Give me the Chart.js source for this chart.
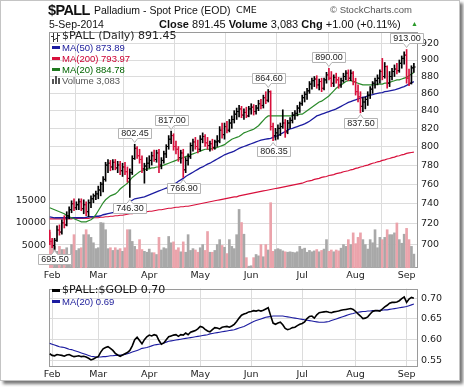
<!DOCTYPE html>
<html><head><meta charset="utf-8">
<script src="https://cdn.jsdelivr.net/npm/chart.js@4.4.1/dist/chart.umd.min.js"></script>
<style>
html,body{margin:0;padding:0;background:#fff;width:464px;height:387px;overflow:hidden;}
#frame{position:absolute;left:0;top:0;width:458px;height:379px;border:1px solid #c4c4c4;box-shadow:3px 3px 3px #777;background:#fff;z-index:0;}
canvas{position:absolute;left:0;z-index:1;}
.t{position:absolute;white-space:nowrap;font-family:"Liberation Sans",Arial,sans-serif;color:#111;z-index:2;}
.d{font-family:"DejaVu Sans",sans-serif;}
.dash{position:absolute;width:8px;height:3px;z-index:2;}
</style></head>
<body>
<div id="frame"></div>
<canvas id="pc" width="464" height="282" style="top:0"></canvas>
<canvas id="rc" width="464" height="100" style="top:280px"></canvas>

<div class="t" style="left:48px;top:2px;font-size:14.5px;font-weight:bold;letter-spacing:-0.6px;line-height:16px;">$PALL</div>
<div class="t" style="left:94px;top:3.5px;font-size:10.5px;line-height:12px;">Palladium - Spot Price (EOD)</div>
<div class="t d" style="left:236px;top:3.5px;font-size:9.5px;line-height:12px;">CME</div>
<div class="t" style="left:330px;top:4px;font-size:9.5px;line-height:12px;color:#555;">© StockCharts.com</div>
<div class="t" style="left:49px;top:18.4px;font-size:10.5px;line-height:12px;">5-Sep-2014</div>
<div class="t" style="left:159px;top:17.7px;font-size:11px;line-height:13px;"><b>Close</b> 891.45 <b>Volume</b> 3,083 <b>Chg</b> +1.00 (+0.11%)</div>
<div class="t" style="left:411px;top:20px;font-size:7px;line-height:8px;color:#2a9a2a;">▲</div>

<svg style="position:absolute;left:51px;top:33px;z-index:2" width="9" height="9"><path d="M2.5 0v9M0 3.5h2.5M2.5 6.5h2M6.5 0v9M4.5 5.5h2M6.5 2.5h2.5" stroke="#333" stroke-width="1" fill="none"/></svg>
<div class="t d" style="left:62px;top:29.5px;font-size:11px;line-height:12px;color:#222;">$PALL (Daily) 891.45</div>
<div class="dash" style="left:52px;top:46px;background:#1c1ca0;"></div>
<div class="t" style="left:62px;top:41.9px;font-size:9.5px;line-height:11px;color:#1a1a99;">MA(50) 873.89</div>
<div class="dash" style="left:52px;top:57px;background:#d8103c;"></div>
<div class="t" style="left:62px;top:52.9px;font-size:9.5px;line-height:11px;color:#cc0033;">MA(200) 793.97</div>
<div class="dash" style="left:52px;top:68px;background:#1f7a1f;"></div>
<div class="t" style="left:62px;top:63.9px;font-size:9.5px;line-height:11px;color:#006400;">MA(20) 884.78</div>
<svg style="position:absolute;left:52px;top:76px;z-index:2" width="9" height="8"><rect x="0" y="3" width="2" height="5" fill="#555"/><rect x="3" y="0" width="2" height="8" fill="#555"/><rect x="6" y="2" width="2" height="6" fill="#555"/></svg>
<div class="t" style="left:62px;top:74.7px;font-size:9.5px;line-height:11px;color:#555;">Volume 3,083</div>

<div class="dash" style="left:52px;top:289px;background:#000;"></div>
<div class="t d" style="left:62px;top:284.2px;font-size:11px;line-height:12px;color:#111;">$PALL:$GOLD 0.70</div>
<div class="dash" style="left:52px;top:300px;background:#1c1ca0;"></div>
<div class="t" style="left:62px;top:296.2px;font-size:9.5px;line-height:11px;color:#1a1a99;">MA(20) 0.69</div>

<script>
// ---------- DATA ----------
const tradingDays = [
 ['Jan',[31]],
 ['Feb',[3,4,5,6,7,10,11,12,13,14,18,19,20,21,24,25,26,27,28]],
 ['Mar',[3,4,5,6,7,10,11,12,13,14,17,18,19,20,21,24,25,26,27,28,31]],
 ['Apr',[1,2,3,4,7,8,9,10,11,14,15,16,17,21,22,23,24,25,28,29,30]],
 ['May',[1,2,5,6,7,8,9,12,13,14,15,16,19,20,21,22,23,27,28,29,30]],
 ['Jun',[2,3,4,5,6,9,10,11,12,13,16,17,18,19,20,23,24,25,26,27,30]],
 ['Jul',[1,2,3,7,8,9,10,11,14,15,16,17,18,21,22,23,24,25,28,29,30,31]],
 ['Aug',[1,4,5,6,7,8,11,12,13,14,15,18,19,20,21,22,25,26,27,28,29]],
 ['Sep',[2,3,4,5]]
];

const openP = [712,703,699,704,714,712,721,719,728,734,740,736,739,742,735,739,732,741,745,748,
 750,754,760,765,780,782,778,783,777,780,774,778,773,766,772,787,798,790,786,776,
 779,782,785,790,786,793,780,785,792,800,808,812,800,797,788,793,775,785,789,801,
 805,800,797,808,811,804,801,803,799,805,806,818,813,822,818,826,830,836,839,842,
 835,838,834,842,844,839,843,848,846,855,852,862,822,812,815,820,822,826,816,826,
 829,835,837,843,848,855,859,863,871,875,877,870,874,866,876,882,878,872,879,876,
 870,875,880,884,878,884,874,862,856,845,850,853,858,865,872,875,878,886,880,892,
 872,880,886,889,887,896,902,906,878,872,890.45];
const highP = [714,706,706,718,719,724,728,732,737,743,745,742,745,745,744,742,744,748,750,753,
 758,762,768,783,786,785,786,786,784,784,782,783,778,776,790,802.45,800,797,790,782,
 788,790,794,796,796,797,788,795,802,812,817,814,806,800,796,797,788,792,804,808,
 810,807,812,815,813,810,806,808,807,812,822,826,826,828,830,834,840,843,846,845,
 842,844,845,848,847,846,852,853,858,862,864.6,863,826,820,824,826,841,830,829,832,
 838,840,846,850,858,862,866,874,878,880,881,877,878,878,885,890,886,882,884,879,
 878,884,887,888,888,886,878,870,862,855,856,862,868,874,878,882,888,902,897,893,
 886,890,894,896,900,905,910,913,889,893,896];
const lowP = [700,697,695.5,703,709,710,716,718,725,731,733,734,734,733,730,728,727,736,741,744,
 745,748,752,763,772,774,775,775,772,770,768,770,762,746.3,770,786,787,782,772,761,
 774,777,780,784,783,772,776,782,788,797,803,796,792,784,782,766.9,772,780,787,795,
 797,793,795,804,800,797,795,796,797,800,804,809,808,815,816,820,826,830,833,832,
 830,832,833,836,835,836,840,842,843,848,850,818,806.35,807,808,812,820,810,814,820,
 826,830,834,838,846,850,853,860,865,868,866,864,862,864,872,876,868,868,872,866,
 867,873,876,875,875,870,858,850,837.5,839,842,846,854,860,866,870,872,876,878,866,
 868,876,880,883,885,890,895,872,869,871,885];
const closeP = [703,699,704,714,712,721,719,728,734,740,736,739,742,735,739,732,741,745,748,750,
 754,760,765,780,782,778,783,777,780,774,778,773,766,772,787,798,790,786,776,779,
 782,785,790,786,793,780,785,792,800,808,812,800,797,788,793,775,785,789,801,805,
 800,797,808,811,804,801,803,799,805,806,818,813,822,818,826,830,836,839,842,835,
 838,834,842,844,839,843,848,846,855,852,862,822,812,815,820,822,826,816,826,829,
 835,837,843,848,855,859,863,871,875,877,870,874,866,876,882,878,872,879,876,870,
 875,880,884,878,884,874,862,856,845,850,853,858,865,872,875,878,886,880,892,872,
 880,886,889,887,896,902,906,878,872,890.45,891.45];
const volume = [7900,6300,4800,3700,4800,4100,4100,4500,3000,5200,7400,3900,4300,4500,7400,8500,7400,6800,5600,4300,
 4500,10100,10000,8500,4300,4500,3900,4500,4000,4300,3700,4500,8500,8500,5900,4800,4100,6300,4100,3700,3500,
 4200,3400,3400,3000,6800,4000,4500,4300,7000,5600,5800,4000,4500,3600,5800,3500,7400,3900,4300,4000,3500,
 4500,5200,3900,8100,3500,3500,3900,5200,6300,5000,4600,3200,6300,4800,4300,7400,13000,10100,7500,2300,400,
 500,2300,3000,2700,5200,2500,5200,4000,14500,3700,4100,4300,4100,3800,3600,3500,3600,3500,3400,3600,4800,
 4200,4400,3500,3900,3600,3800,4100,3600,3900,4200,6300,3700,4000,3600,4000,3800,4400,5200,4800,6300,5200,7800,
 5400,6800,7800,6300,5200,4200,6300,5600,8500,4500,6800,6300,6800,8500,7400,7400,7800,10000,6300,5500,7500,
 8800,6300,4800,3083];
const ma20 = [736,735,734,733,732,731,730,728,727,726,725,724,723,722,722,722,723,724,726,729,
 733,737,741,744,746,748,749,750,752,755,757,759,761,764,767,769,771,773,774,775,
 776,776,777,777,778,778,779,780,781,782,783,784,785,786,787,788,789,790,791,792,
 793,794,795,796,797,797,797,798,798,799,800,801,802,804,806,808,809,810,811,813,
 815,816,817,818,819,821,823,826,829,832,834,834,834,834,834,834,834,834,834,834,
 834,835,835,836,836,838,840,842,844,846,848,850,851,853,855,857,860,863,866,868,
 870,872,874,875,875,874,873,872,871,870,870,870,870,870,870,871,871,871,872,872,
 873,874,875,876,876,877,878,879,881,883,884.78];
const ma50 = [727,726.5,726,726,726,726,726,726,726,726,726,726,726,726,726,726.5,727,727,727,727.5,
 727.5,728,729,729.5,730,730.5,731,732.5,734,735.5,737,739,740.5,742,743.5,745,745.5,746,746.5,747,
 748,749,750,751,752,753,754,755,756,757,758.5,760,761,763,764.5,766,768,769.5,771,772.5,
 774,775.5,777,778,779.5,781,782,783.5,785,786.5,788,789.5,791,792,793,794,795,796.5,798,799,
 800,801,802,803,804,805,806,807,807.5,808,808.5,809,810,811,812,813.5,815,816.5,818,819.5,
 820,821,822,823,824,825,826.5,828,830,832,834,835,836,837,838,839,840,841,842,843.5,
 845,846.5,848,849.5,850.5,851.5,852.5,853.5,854.5,855.5,856,857,858,858.5,859.5,860,860.5,861,862,862.5,
 863,863.5,864,865,866,867,868,869.5,871,872.5,873.89];
const ma200 = [725,725,725,725,725,725,725,725,725,725,725.5,725.5,725.5,725.5,725.5,725.5,725.5,726,726,726,
 726,726.5,726.5,727,727,727.5,727.5,728,728,728.5,728.5,729,729.5,730,730,730.5,730.5,731,731.5,731.5,
 732,732.5,732.5,733,733.5,734,734,734.5,735,735.5,735.5,736,736.5,736.5,737,737,737.5,737.5,738,738.5,
 739,739.5,740,740.5,741,741.5,742,742.5,743,743.5,744,744.5,745,745.5,746,746.5,747,747,748,748.5,
 749,749.5,750,750.5,751,751.5,752,752.5,753,753.5,754,754.5,755,755.5,756,756.5,757,757.5,758,758.5,
 759,759.5,760,760.5,761,762,763,763.5,764,765,765.5,766,767,767.5,768,769,769.5,770,771,771.5,
 772,773,773.5,774,775,775.5,776.5,777,778,778.5,779.5,780,781,782,782.5,783.5,784,785,785.5,786.5,
 787,788,788.5,789.5,790,791,791.5,792.5,793,793.5,793.97];
const ratio = [0.566,0.562,0.561,0.564,0.563,0.562,0.560,0.563,0.564,0.561,0.559,0.560,0.561,0.559,0.560,0.558,0.555,0.551,0.553,0.557,
 0.559,0.570,0.578,0.581,0.583,0.579,0.574,0.567,0.563,0.560,0.563,0.566,0.569,0.574,0.585,0.600,0.606,0.598,0.590,0.600,
 0.607,0.611,0.609,0.612,0.610,0.598,0.589,0.592,0.600,0.607,0.609,0.611,0.612,0.608,0.612,0.611,0.616,0.612,0.618,0.620,
 0.622,0.626,0.632,0.630,0.625,0.621,0.619,0.624,0.629,0.628,0.626,0.630,0.631,0.632,0.630,0.633,0.637,0.644,0.652,0.659,
 0.662,0.664,0.667,0.668,0.670,0.669,0.671,0.669,0.671,0.674,0.677,0.658,0.640,0.637,0.640,0.642,0.636,0.627,0.624,0.626,
 0.629,0.630,0.634,0.637,0.639,0.643,0.651,0.656,0.657,0.652,0.660,0.665,0.666,0.667,0.668,0.666,0.665,0.667,0.668,0.669,
 0.671,0.672,0.673,0.674,0.675,0.673,0.668,0.662,0.657,0.651,0.652,0.655,0.662,0.668,0.670,0.670,0.669,0.674,0.679,0.683,
 0.688,0.690,0.690,0.691,0.694,0.699,0.703,0.690,0.698,0.702,0.700];
const ratioMa20 = [0.591,0.589,0.587,0.585,0.583,0.582,0.581,0.579,0.577,0.576,0.574,0.572,0.570,0.568,0.566,0.564,0.562,0.560,0.559,0.558,
 0.558,0.558,0.559,0.559,0.560,0.561,0.561,0.562,0.562,0.563,0.563,0.564,0.566,0.568,0.570,0.572,0.574,0.576,0.579,0.580,
 0.581,0.583,0.585,0.587,0.588,0.589,0.590,0.592,0.594,0.596,0.597,0.598,0.599,0.600,0.601,0.602,0.603,0.604,0.605,0.606,
 0.607,0.608,0.609,0.610,0.611,0.612,0.614,0.615,0.616,0.617,0.618,0.619,0.620,0.621,0.622,0.623,0.624,0.626,0.628,0.630,
 0.632,0.635,0.638,0.641,0.644,0.646,0.648,0.650,0.652,0.654,0.655,0.656,0.657,0.657,0.657,0.657,0.657,0.656,0.655,0.654,
 0.653,0.652,0.651,0.650,0.649,0.648,0.647,0.646,0.645,0.644,0.643,0.642,0.642,0.642,0.643,0.644,0.646,0.648,0.650,0.652,
 0.654,0.656,0.658,0.660,0.662,0.663,0.665,0.666,0.667,0.668,0.668,0.669,0.669,0.670,0.670,0.670,0.671,0.671,0.672,0.672,
 0.673,0.674,0.675,0.676,0.677,0.678,0.679,0.680,0.682,0.684,0.686];

const priceTicks = [700,720,740,760,780,800,820,840,860,880,900,920];
const volTicks = [5000,10000,15000];
const ratioTicks = [0.55,0.60,0.65,0.70];

// swing labels
const swingIdx = [2,33,35,50,55,90,92,115,128,147];
const swingVal = [695.50,746.30,802.45,817.00,766.90,864.60,806.35,890.00,837.50,913.00];
const swingType = ['L','L','H','H','L','H','L','H','L','H'];

// ---------- BUILD ----------
const dates = [];
const monthStart = [], monthName = [];
tradingDays.forEach(([m, days]) => {
  days.forEach((d, k) => {
    if (k === 0 && m !== 'Jan') { monthStart.push(dates.length); monthName.push(m); }
    dates.push(m + ' ' + d);
  });
});
const idx = dates.map((_, i) => i);

const UP = '#000000', DOWN = '#d8103c';
const dirUp = closeP.map((c, i) => i === 0 ? c >= openP[0] : c >= closeP[i - 1]);
const barColor = dirUp.map(u => u ? UP : DOWN);
const volColor = dirUp.map(u => u ? '#a8a8a8' : '#eba3ab');

Chart.defaults.font.family = '"DejaVu Sans", sans-serif';
Chart.defaults.font.size = 9.5;
Chart.defaults.color = '#333';

const xMin = -0.3, xMax = 151.7;
const GRID = '#dcdcdc';

const boxPlugin = {
  id: 'boxPlugin',
  beforeDatasetsDraw(chart) {
    const {ctx, chartArea: a} = chart;
    ctx.save();
    ctx.strokeStyle = '#9a9a9a'; ctx.lineWidth = 1;
    ctx.strokeRect(Math.round(a.left) + 0.5, Math.round(a.top) + 0.5, Math.round(a.right - a.left) - 1, Math.round(a.bottom - a.top) - 1);
    ctx.restore();
  }
};

const swingPlugin = {
  id: 'swingPlugin',
  afterDatasetsDraw(chart) {
    if (chart.canvas.id !== 'pc') return;
    const {ctx, scales} = chart;
    ctx.save();
    ctx.font = '9px "Liberation Sans", Arial, sans-serif';
    ctx.textAlign = 'center'; ctx.textBaseline = 'middle';
    swingIdx.forEach((ix, k) => {
      const v = swingVal[k], hi = swingType[k] === 'H';
      const px = scales.x.getPixelForValue(ix);
      const py = scales.y.getPixelForValue(v);
      const txt = v.toFixed(2);
      const w = Math.round(ctx.measureText(txt).width + 5), h = 10;
      const bx = Math.round(px - w / 2) + 0.5;
      const by = Math.round(hi ? py - 6 - h : py + 5) + 0.5;
      ctx.fillStyle = '#fff'; ctx.strokeStyle = '#b4b4b4'; ctx.lineWidth = 1;
      ctx.beginPath();
      if (hi) {
        ctx.moveTo(bx, by); ctx.lineTo(bx + w, by); ctx.lineTo(bx + w, by + h);
        ctx.lineTo(px + 3, by + h); ctx.lineTo(px, by + h + 4); ctx.lineTo(px - 3, by + h);
        ctx.lineTo(bx, by + h); ctx.closePath();
      } else {
        ctx.moveTo(bx, by); ctx.lineTo(px - 3, by); ctx.lineTo(px, by - 4); ctx.lineTo(px + 3, by);
        ctx.lineTo(bx + w, by); ctx.lineTo(bx + w, by + h); ctx.lineTo(bx, by + h); ctx.closePath();
      }
      ctx.fill(); ctx.stroke();
      ctx.fillStyle = '#222';
      ctx.fillText(txt, bx + w / 2, by + h / 2 + 0.5);
    });
    ctx.restore();
  }
};

function xAxis(height) {
  return {
    type: 'linear', min: xMin, max: xMax, offset: false,
    afterBuildTicks: s => { s.ticks = monthStart.map(v => ({value: v})); },
    afterFit: s => { s.height = height; },
    ticks: { autoSkip: false, maxRotation: 0, padding: 2, color: '#222',
      callback: v => { const k = monthStart.indexOf(v); return k >= 0 ? monthName[k] : ''; } },
    grid: { color: GRID, drawTicks: false },
    border: { display: false }
  };
}

new Chart(document.getElementById('pc'), {
  type: 'line',
  data: {
    datasets: [
      { type: 'bar', yAxisID: 'y', data: idx.map(i => ({x: i, y: [lowP[i], highP[i]]})),
        backgroundColor: barColor, barThickness: 1, grouped: false, order: 1 },
      { type: 'line', yAxisID: 'y', showLine: false, data: idx.map(i => ({x: i - 0.42, y: openP[i]})),
        pointStyle: 'line', pointRadius: 0.8, pointBorderWidth: 1, pointBorderColor: barColor, order: 1 },
      { type: 'line', yAxisID: 'y', showLine: false, data: idx.map(i => ({x: i + 0.42, y: closeP[i]})),
        pointStyle: 'line', pointRadius: 0.8, pointBorderWidth: 1, pointBorderColor: barColor, order: 1 },
      { type: 'line', yAxisID: 'y', data: idx.map(i => ({x: i, y: ma20[i]})), borderColor: '#2a8a2a', borderWidth: 1.2, pointRadius: 0, order: 2 },
      { type: 'line', yAxisID: 'y', data: idx.map(i => ({x: i, y: ma50[i]})), borderColor: '#1c1ca0', borderWidth: 1.3, pointRadius: 0, order: 2 },
      { type: 'line', yAxisID: 'y', data: idx.map(i => ({x: i, y: ma200[i]})), borderColor: '#d8103c', borderWidth: 1.2, pointRadius: 0, order: 2 },
      { type: 'bar', yAxisID: 'vol', data: idx.map(i => ({x: i, y: volume[i]})),
        backgroundColor: volColor, barThickness: 2, grouped: false, order: 3 }
    ]
  },
  options: {
    responsive: false, animation: false, devicePixelRatio: 1,
    layout: { padding: { top: 32, left: 0, right: 0, bottom: 0 } },
    plugins: { legend: { display: false }, tooltip: { enabled: false } },
    scales: {
      x: xAxis(14),
      y: { type: 'logarithmic', position: 'right', min: 678, max: 935,
        afterBuildTicks: s => { s.ticks = priceTicks.map(v => ({value: v})); },
        afterFit: s => { s.width = 46; },
        ticks: { padding: 3, color: '#222', callback: v => String(v) },
        grid: { color: GRID, drawTicks: false }, border: { display: false } },
      vol: { type: 'linear', position: 'left', min: 0, max: 52400,
        afterBuildTicks: s => { s.ticks = volTicks.map(v => ({value: v})); },
        afterFit: s => { s.width = 49; },
        ticks: { padding: 3, color: '#222', callback: v => String(v) },
        grid: { display: false, drawTicks: false }, border: { display: false } }
    }
  },
  plugins: [boxPlugin, swingPlugin]
});

new Chart(document.getElementById('rc'), {
  type: 'line',
  data: {
    datasets: [
      { data: idx.map(i => ({x: i, y: ratio[i]})), borderColor: '#000', borderWidth: 1.6, pointRadius: 0, order: 1 },
      { data: idx.map(i => ({x: i, y: ratioMa20[i]})), borderColor: '#1c1ca0', borderWidth: 1.1, pointRadius: 0, order: 2 }
    ]
  },
  options: {
    responsive: false, animation: false, devicePixelRatio: 1,
    layout: { padding: { top: 3, left: 49, right: 0, bottom: 0 } },
    plugins: { legend: { display: false }, tooltip: { enabled: false } },
    scales: {
      x: xAxis(13),
      y: { type: 'linear', position: 'right', min: 0.534, max: 0.723,
        afterBuildTicks: s => { s.ticks = ratioTicks.map(v => ({value: v})); },
        afterFit: s => { s.width = 46; },
        ticks: { padding: 3, color: '#222', callback: v => v.toFixed(2) },
        grid: { color: GRID, drawTicks: false }, border: { display: false } }
    }
  },
  plugins: [boxPlugin]
});
</script>
</body></html>
